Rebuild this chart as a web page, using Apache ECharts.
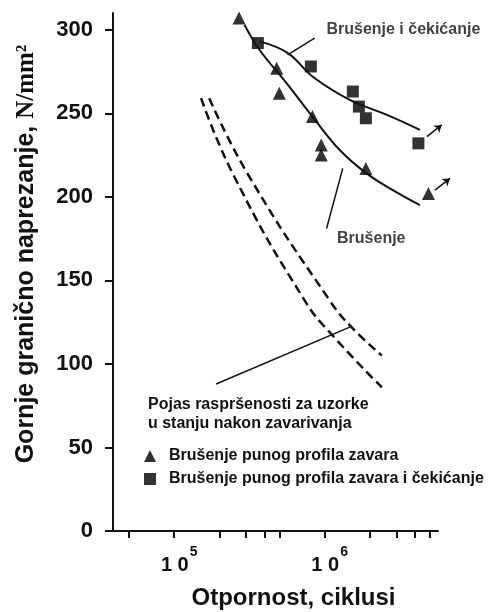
<!DOCTYPE html>
<html>
<head>
<meta charset="utf-8">
<script src="https://cdn.jsdelivr.net/npm/echarts@6.0.0/dist/echarts.min.js"></script>
<style>
    html, body { margin: 0; padding: 0; background: #fff; }
    #chart { width: 496px; height: 612px; }
</style>
</head>
<body>
<div id="chart"></div>
<script>
// measured points: cycles N and upper limit stress (N/mm2)
var triN = [2.7e5, 4.8e5, 5.0e5, 8.3e5, 9.5e5, 9.5e5, 1.88e6, 4.9e6];
var triS = [307, 277, 262, 248, 231, 225, 217, 202];
var sqN = [3.6e5, 8.1e5, 1.54e6, 1.69e6, 1.88e6, 4.2e6];
var sqS = [292, 278, 263, 254, 247, 232];

// fitted curves
var triFitN = [2.93e5, 3.69e5, 5.58e5, 8.3e5, 1.26e6, 1.9e6, 2.84e6, 4.3e6];
var triFitS = [303, 288, 268, 248, 228, 214, 204, 195];
var sqFitN = [3.7e5, 5.7e5, 8.3e5, 1.47e6, 2.6e6, 4.3e6];
var sqFitS = [293, 286, 272, 258, 249, 240];

// scatter band for as-welded specimens
var bandLowN = [1.51e5, 2.51e5, 7.36e5, 1.13e6, 2.4e6];
var bandLowS = [259, 212, 138, 117, 86];
var bandHighN = [1.71e5, 3.16e5, 1.08e6, 1.51e6, 2.4e6];
var bandHighS = [259, 212, 138, 122, 105];

// axis ticks
var xTicks = [5e4, 1e5, 2e5, 3e5, 4e5, 5e5, 1e6, 2e6, 3e6, 4e6, 5e6];
var xLabels = [1e5, 1e6];
var yTicks = [0, 50, 100, 150, 200, 250, 300];

var nameTri = 'Brušenje punog profila zavara';
var nameSq = 'Brušenje punog profila zavara i čekićanje';

function pairs(xs, ys) {
    var out = [];
    for (var i = 0; i < xs.length; i++) {
        out.push([xs[i], ys[i]]);
    }
    return out;
}

var ink = '#111';
var font = 'Liberation Sans';

var myChart = echarts.init(document.getElementById('chart'));
var option = {
    backgroundColor: '#fff',
    animation: false,
    title: {
        text: 'Pojas raspršenosti za uzorke\nu stanju nakon zavarivanja',
        left: 148,
        top: 395,
        padding: 0,
        textStyle: {
            fontFamily: font,
            fontSize: 16,
            fontWeight: 'bold',
            color: ink,
            lineHeight: 19
        }
    },
    legend: {
        data: [
            {name: nameTri, icon: 'triangle'},
            {name: nameSq, icon: 'rect'}
        ],
        orient: 'vertical',
        left: 144,
        top: 448,
        padding: 0,
        itemWidth: 12,
        itemHeight: 12,
        itemGap: 7,
        textStyle: {
            fontFamily: font,
            fontSize: 16,
            fontWeight: 'bold',
            color: ink,
            padding: [0, 0, 0, 8]
        }
    },
    grid: {
        left: 113,
        right: 58,
        top: 13,
        bottom: 81,
        outerBoundsMode: 'none'
    },
    xAxis: {
        type: 'log',
        logBase: 10,
        min: 39200,
        max: 5670000,
        name: 'Otpornost, ciklusi',
        nameLocation: 'middle',
        nameGap: 55,
        nameTextStyle: {
            fontFamily: font,
            fontSize: 24,
            fontWeight: 'bold',
            color: ink,
            padding: [0, 0, 0, 36]
        },
        axisLine: {lineStyle: {color: ink, width: 2}},
        axisTick: {
            customValues: xTicks,
            length: 7,
            lineStyle: {color: ink, width: 2}
        },
        axisLabel: {
            customValues: xLabels,
            margin: 14,
            formatter: function (v) {
                var e = Math.round(Math.log(v) / Math.LN10);
                return '{b|1 0}{s|' + e + '}';
            },
            rich: {
                b: {
                    fontFamily: font, fontSize: 20, fontWeight: 'bold', color: ink,
                    lineHeight: 30, verticalAlign: 'bottom', padding: [0, 0, 0, 10]
                },
                s: {
                    fontFamily: font, fontSize: 14, fontWeight: 'bold', color: ink,
                    lineHeight: 30, verticalAlign: 'top', padding: [0, 0, 0, 1]
                }
            }
        },
        splitLine: {show: false}
    },
    yAxis: {
        type: 'value',
        min: 0,
        max: 310,
        name: '{a|Gornje granično naprezanje, }{b|N/mm²}',
        nameLocation: 'middle',
        nameRotate: 90,
        nameGap: 74,
        nameTextStyle: {
            padding: [0, 0, 0, 36],
            rich: {
                a: {fontFamily: font, fontSize: 25, fontWeight: 'bold', color: ink},
                b: {fontFamily: 'Liberation Serif', fontSize: 25, fontWeight: 'bold', color: ink}
            }
        },
        axisLine: {show: true, lineStyle: {color: ink, width: 2}},
        axisTick: {
            show: true,
            customValues: yTicks,
            length: 8,
            lineStyle: {color: ink, width: 2}
        },
        axisLabel: {
            customValues: yTicks,
            margin: 20,
            fontFamily: font,
            fontSize: 22,
            fontWeight: 'bold',
            color: ink
        },
        splitLine: {show: false}
    },
    series: [
        {
            name: 'band-low',
            type: 'line',
            data: pairs(bandLowN, bandLowS),
            smooth: 0.5,
            showSymbol: false,
            silent: true,
            lineStyle: {color: ink, width: 2.5, type: [9, 5]}
        },
        {
            name: 'band-high',
            type: 'line',
            data: pairs(bandHighN, bandHighS),
            smooth: 0.5,
            showSymbol: false,
            silent: true,
            lineStyle: {color: ink, width: 2.5, type: [9, 5]}
        },
        {
            name: 'fit-tri',
            type: 'line',
            data: pairs(triFitN, triFitS),
            smooth: 0.4,
            showSymbol: false,
            silent: true,
            lineStyle: {color: ink, width: 2}
        },
        {
            name: 'fit-sq',
            type: 'line',
            data: pairs(sqFitN, sqFitS),
            smooth: 0.4,
            showSymbol: false,
            silent: true,
            lineStyle: {color: ink, width: 2}
        },
        {
            name: nameTri,
            type: 'scatter',
            symbol: 'triangle',
            symbolSize: 13,
            data: pairs(triN, triS),
            itemStyle: {color: '#000'}
        },
        {
            name: nameSq,
            type: 'scatter',
            symbol: 'rect',
            symbolSize: 12,
            data: pairs(sqN, sqS),
            itemStyle: {color: '#000'}
        },
        {
            // leader lines to annotations
            name: 'leaders',
            type: 'lines',
            coordinateSystem: 'cartesian2d',
            silent: true,
            lineStyle: {color: ink, width: 1.5, opacity: 1},
            data: [
                {coords: [[1.9e5, 88], [1.47e6, 122]]},
                {coords: [[5.67e5, 285], [8.58e5, 295]]},
                {coords: [[1.32e6, 217], [1.03e6, 181]]}
            ]
        },
        {
            // runout arrows
            name: 'runouts',
            type: 'lines',
            coordinateSystem: 'cartesian2d',
            silent: true,
            clip: false,
            symbol: ['none', 'arrow'],
            symbolSize: 7,
            lineStyle: {color: ink, width: 1.5, opacity: 1},
            data: [
                {coords: [[4.79e6, 236], [6.0e6, 243]]},
                {coords: [[5.41e6, 204], [6.81e6, 211]]}
            ]
        },
        {
            name: 'notes',
            type: 'scatter',
            symbol: 'circle',
            symbolSize: 1,
            silent: true,
            itemStyle: {color: 'rgba(0,0,0,0)'},
            label: {
                show: true,
                position: 'right',
                distance: 0,
                formatter: function (p) { return p.data[2]; },
                fontFamily: font,
                fontSize: 16,
                fontWeight: 'bold',
                color: ink
            },
            data: [
                [1.02e6, 300, 'Brušenje i čekićanje'],
                [1.2e6, 175, 'Brušenje']
            ]
        }
    ]
};

myChart.setOption(option);
</script>
</body>
</html>
